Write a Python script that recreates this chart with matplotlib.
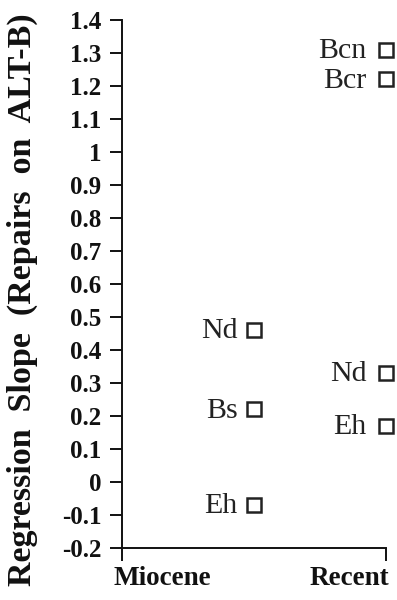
import matplotlib
matplotlib.use("Agg")
import matplotlib.pyplot as plt

# Regression slopes of repairs on ALT-B, by taxon and period
periods = ["Miocene", "Recent"]
miocene_taxa = ["Nd", "Bs", "Eh"]
miocene_slopes = [0.46, 0.22, -0.07]
recent_taxa = ["Bcn", "Bcr", "Nd", "Eh"]
recent_slopes = [1.31, 1.22, 0.33, 0.17]
y_ticks = [-0.2, -0.1, 0, 0.1, 0.2, 0.3, 0.4, 0.5, 0.6, 0.7, 0.8, 0.9, 1, 1.1, 1.2, 1.3, 1.4]
y_tick_labels = ["-0.2", "-0.1", "0", "0.1", "0.2", "0.3", "0.4", "0.5", "0.6",
                 "0.7", "0.8", "0.9", "1", "1.1", "1.2", "1.3", "1.4"]

plt.rcParams["font.family"] = ["Liberation Serif", "DejaVu Serif"]

fig = plt.figure(figsize=(3.97, 6.0), dpi=100)
ax = fig.add_axes([0.308, 0.087, 0.664, 0.880])

x_mio, x_rec = 1.0, 2.0
marker_style = dict(marker="s", markersize=9.5, markerfacecolor="white",
                    markeredgecolor="#222222", markeredgewidth=1.8,
                    linestyle="none", clip_on=False, zorder=3)

ax.plot([x_mio] * len(miocene_slopes), miocene_slopes, **marker_style)
ax.plot([x_rec] * len(recent_slopes), recent_slopes, **marker_style)

for name, val in zip(miocene_taxa, miocene_slopes):
    ax.annotate(name, (x_mio, val), xytext=(-12, -1), textcoords="offset points",
                ha="right", va="center", fontsize=21.5, color="#222222")
for name, val in zip(recent_taxa, recent_slopes):
    ax.annotate(name, (x_rec, val), xytext=(-14, -1), textcoords="offset points",
                ha="right", va="center", fontsize=21.5, color="#222222")

ax.set_xlim(0, 2)
ax.set_ylim(-0.2, 1.4)

ax.set_yticks(y_ticks)
ax.set_yticklabels(y_tick_labels, fontsize=18, fontweight="bold")
ax.tick_params(axis="y", direction="out", length=9, width=1.4, pad=6,
               colors="#111111")

# Period names sit below the axis; tick marks only at the axis ends
ax.set_xticks([0, 2])
ax.set_xticklabels(["", ""])
ax.tick_params(axis="x", direction="out", length=9, width=1.4, colors="#111111")
ax.text(0.30, -0.034, periods[0], transform=ax.get_xaxis_transform(),
        ha="center", va="top", fontsize=19.5, fontweight="bold", color="#111111")
ax.text(1.72, -0.034, periods[1], transform=ax.get_xaxis_transform(),
        ha="center", va="top", fontsize=19.5, fontweight="bold", color="#111111")

for side in ("top", "right"):
    ax.spines[side].set_visible(False)
for side in ("left", "bottom"):
    ax.spines[side].set_linewidth(1.4)
    ax.spines[side].set_color("#111111")

fig.text(0.056, 0.5, "Regression  Slope  (Repairs  on  ALT-B)", rotation=90,
         ha="center", va="center", fontsize=24.5, fontweight="bold", color="#111111")

fig.savefig("out.png", dpi=100)
